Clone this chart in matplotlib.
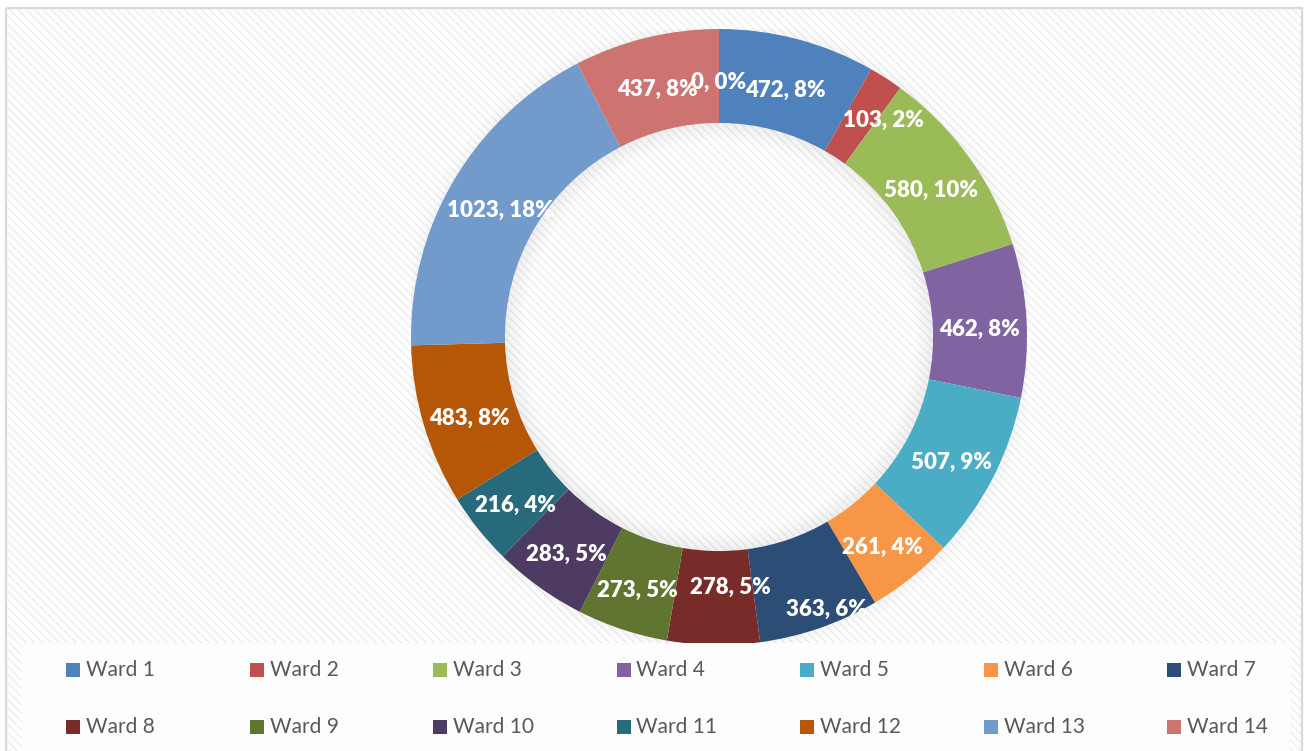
import matplotlib
matplotlib.use("Agg")
import matplotlib.pyplot as plt
import numpy as np
from matplotlib.patches import Rectangle, Wedge

plt.rcParams['font.family'] = ['Lato', 'DejaVu Sans']
plt.rcParams['hatch.linewidth'] = 0.9

# data (last slice is an empty one that only shows a label)
wards = ['Ward 1', 'Ward 2', 'Ward 3', 'Ward 4', 'Ward 5', 'Ward 6', 'Ward 7',
         'Ward 8', 'Ward 9', 'Ward 10', 'Ward 11', 'Ward 12', 'Ward 13', 'Ward 14', '']
counts = [472, 103, 580, 462, 507, 261, 363, 278, 273, 283, 216, 483, 1023, 437, 0]
pcts = [8, 2, 10, 8, 9, 4, 6, 5, 5, 5, 4, 8, 18, 8, 0]
colors = ['#4F81BD', '#C0504D', '#9BBB59', '#8064A2', '#4BACC6', '#F79646', '#2C4D75',
          '#772C2A', '#5F7530', '#4D3B62', '#276A7C', '#B65708', '#729ACA', '#CD7371',
          '#AFC97A']

# label nudges in pixels (right, down) where the labels sit off the ring middle
nudge = {1: (23, 3), 6: (22, 26), 7: (16, -11), 12: (6, 6)}

W, H = 1309, 751
fig = plt.figure(figsize=(W / 100, H / 100), dpi=100)

# background / chart area, pixel coordinates
bg = fig.add_axes([0, 0, 1, 1], zorder=0)
bg.set_xlim(0, W)
bg.set_ylim(H, 0)
bg.axis('off')
bg.add_patch(Rectangle((6, 8), 1296, 760, facecolor='white', edgecolor='#ececec',
                       hatch='\\' * 4, linewidth=0))
bg.add_patch(Rectangle((6, 8), 1296, 760, facecolor='none', edgecolor='#d9d9d9',
                       linewidth=1.6))

# donut
cx, cy, R = 719, 337, 308
ax = fig.add_axes([(cx - R) / W, (H - cy - R) / H, 2 * R / W, 2 * R / H], zorder=1)
ax.axis('off')

ring = 0.305
rin = 1 - ring

# soft shadows outside and inside the ring
for k in range(10):
    ax.add_patch(Wedge((0, 0), 1 + 0.004 * (k + 1), 0, 360, width=0.004,
                       facecolor='black', alpha=0.035 * (10 - k) / 10, linewidth=0))
    ax.add_patch(Wedge((0, 0), rin - 0.006 * k, 0, 360, width=0.006,
                       facecolor='black', alpha=0.06 * (10 - k) / 10, linewidth=0))

wedges, _ = ax.pie(counts, colors=colors, startangle=90, counterclock=False,
                   radius=1, wedgeprops=dict(width=ring, linewidth=0))
ax.set_xlim(-1, 1)
ax.set_ylim(-1, 1)
ax.set_aspect('equal')

rlab = 1 - ring / 2
for i, (w, c, p) in enumerate(zip(wedges, counts, pcts)):
    ang = np.deg2rad((w.theta1 + w.theta2) / 2)
    dx, dy = nudge.get(i, (0, 6))
    ax.text(rlab * np.cos(ang) + dx / R, rlab * np.sin(ang) - dy / R, f'{c}, {p}%',
            ha='center', va='center', color='white', fontsize=16,
            fontweight='heavy', zorder=5)

# legend box
lg = fig.add_axes([0, 0, 1, 1], zorder=2)
lg.set_xlim(0, W)
lg.set_ylim(H, 0)
lg.axis('off')
lg.add_patch(Rectangle((22, 643), 1268, 120, facecolor='#fdfdfd', linewidth=0))
for i, name in enumerate(wards[:14]):
    col, row = i % 7, i // 7
    x = 73 + col * 183.5
    y = 670 + row * 57
    lg.scatter([x], [y], marker='s', s=95, color=colors[i], linewidths=0)
    lg.text(x + 13, y, name, ha='left', va='center', color='#595959', fontsize=15)

fig.savefig('out.png', dpi=100)
